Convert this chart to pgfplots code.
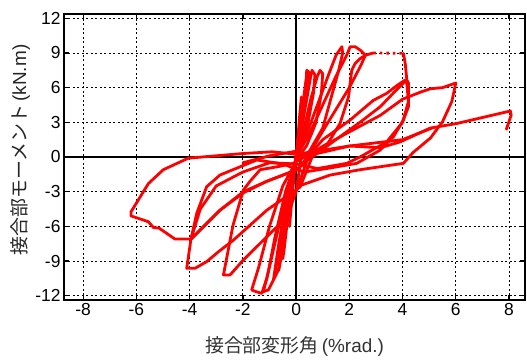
\documentclass[border=0pt]{standalone}
\usepackage{pgfplots}
\pgfplotsset{compat=1.18}
\usepackage{fontspec}
\setmainfont{Liberation Sans}
\newfontfamily\jp{Noto Sans CJK JP}
\tikzset{hl/.style={red, line width=2.8bp, line join=round, line cap=round}}
\begin{document}
\begin{tikzpicture}
\begin{axis}[
 width=461bp, height=286bp, scale only axis,
 xmin=-8.72, xmax=8.6, ymin=-12.37, ymax=12.37,
 xtick={-8,-6,...,8}, ytick={-12,-9,...,12},
 tick align=inside, major tick length=5bp,
 grid=major,
 major grid style={black, line width=0.9bp, dash pattern=on 2bp off 2.5bp},
 axis line style={black, line width=1.3bp},
 tick style={black, line width=1.3bp},
 /pgf/number format/assume math mode=true,
 ticklabel style={font=\fontsize{17.5}{18}\selectfont},
 xlabel={{\jp 接合部変形角}\,(\%rad.)},
 ylabel={{\jp 接合部モーメント}\,(kN.m)},
 xlabel style={at={(axis description cs:0.5,-0.164)}, anchor=center, font=\fontsize{19}{22}\selectfont, text=black!80},
 ylabel style={at={(axis description cs:-0.0954,0.5245)}, anchor=center, font=\fontsize{19}{22}\selectfont, text=black!85},
]
\coordinate (SW) at (rel axis cs:0,0);
\coordinate (NE) at (rel axis cs:1,1);
\draw[black, line width=2.6bp] (rel axis cs:0,0.5) -- (rel axis cs:1,0.5);
\draw[black, line width=2.6bp] (axis cs:0,-12.37) -- (axis cs:0,12.37);
% small cycles
\addplot[hl] coordinates {(0,0) (0.08,2.0) (0.15,4.0) (0.2,5.2) (0.12,3.0) (0.03,0.8) (-0.05,-1.0) (-0.15,-3.5) (-0.25,-6.0) (-0.18,-4.0) (-0.05,-1.0) (0,0)};
\addplot[hl] coordinates {(0,0) (0.1,2.0) (0.25,4.5) (0.38,6.8) (0.4,7.5) (0.5,7.3) (0.4,5.5) (0.25,3.0) (0.05,0.5) (-0.1,-1.5) (-0.3,-5.0) (-0.45,-8.0) (-0.5,-8.8) (-0.35,-6.0) (-0.15,-2.5) (0,0)};
\addplot[hl] coordinates {(0,0) (0.2,2.5) (0.4,5.0) (0.55,7.0) (0.6,7.5) (0.71,7.1) (0.65,5.5) (0.45,3.0) (0.2,1.0) (-0.1,-1.0) (-0.35,-4.5) (-0.55,-8.0) (-0.65,-9.8) (-0.55,-8.5) (-0.35,-5) (-0.1,-1.5) (0,0)};
\addplot[hl] coordinates {(0,0) (0.3,2.5) (0.55,5.0) (0.8,7.0) (0.9,7.5) (1.0,7.2) (0.95,5.5) (0.75,3.0) (0.4,1.0) (0,-0.3) (-0.35,-3.5) (-0.65,-7.5) (-0.85,-10.6) (-0.75,-9.5) (-0.5,-6) (-0.2,-2) (0,0)};
\addplot[hl] coordinates {(0,0) (0.4,2.0) (0.8,4.5) (1.2,7.0) (1.5,8.8) (1.72,9.54) (1.75,9.0) (1.6,7.5) (1.3,5.0) (1.0,2.5) (0.5,0.5) (0,-0.3) (-0.4,-3.0) (-0.8,-7.0) (-1.05,-10.0) (-1.23,-11.65) (-1.04,-11.5) (-0.91,-10.9) (-0.67,-9.8) (-0.4,-6.0) (-0.15,-2.0) (0,0)};
\addplot[hl] coordinates {(0,0) (0.5,2.0) (1.0,4.5) (1.5,7.0) (1.9,8.8) (2.03,9.54) (2.22,9.54) (2.4,9.26) (2.6,8.8) (2.4,8.5) (2.22,8.1) (2.09,7.5) (1.97,5.2) (1.65,2.9) (1.2,1.2) (0.5,0.2) (0,-0.4) (-0.5,-2.5) (-1.0,-6.0) (-1.4,-9.5) (-1.67,-11.5) (-1.5,-11.65) (-1.29,-11.8) (-1.1,-10.5) (-0.8,-7.5) (-0.4,-3.5) (0,-0.5)};
% 2-3 % negative loop
\addplot[hl] coordinates {(0,-0.5) (-0.6,-0.8) (-1.35,-1.1) (-1.73,-2.1) (-1.98,-2.85) (-2.37,-5.9) (-2.73,-10.2) (-2.48,-10.2) (-1.98,-8.9) (-1.1,-6.9) (-0.35,-5.2) (0,-3.0)};
% 4 % first cycle
\addplot[hl] coordinates {(0,-3.0) (0.5,0.3) (1.2,3.0) (2.0,6.0) (2.45,8.0) (2.6,8.8) (2.9,9.0)};
\addplot[red, line width=2.8bp, dash pattern=on 2.5bp off 4bp] coordinates {(2.9,9.0) (4.03,8.97)};
\addplot[hl] coordinates {(4.03,8.97) (4.1,8.1) (4.16,6.66) (4.22,6.4) (4.22,4.35) (4.03,3.2) (3.66,1.76) (3.16,0.6) (2.28,-0.55) (1.28,-0.95) (0.3,-1.3) (-0.5,-0.6) (-1.48,-0.26) (-2.86,-1.56) (-3.36,-2.57) (-3.73,-4.85) (-3.95,-7.1) (-4.11,-9.63) (-3.8,-9.63) (-3.36,-9.05) (-2.92,-8.2) (-2.36,-7.2) (-1.1,-4.6) (0.15,-2.6)};
% 4 % second cycle
\addplot[hl] coordinates {(0.15,-2.6) (0.6,0) (1.65,1.76) (2.4,3.0) (3.16,4.35) (3.6,5.4) (4.03,6.4) (4.15,6.6) (4.22,4.8) (4.0,3.0) (3.4,1.3) (2.4,0.0) (1.9,-0.55) (0.8,-1.0) (0,-0.6) (-1.0,-0.5) (-2.0,-1.3) (-3.0,-2.5) (-3.6,-4.5) (-3.95,-7.1) (-3.6,-6.3) (-2.86,-4.6) (-1.98,-3.0) (-1.1,-2.1) (0.03,-1.1)};
\addplot[hl] coordinates {(0.03,-1.1) (1.0,1.5) (2.03,3.2) (2.9,4.9) (3.4,5.5) (3.8,6.2) (4.1,6.66)};
% 6 % cycle
\addplot[hl] coordinates {(0.03,-1.1) (1.0,0.9) (1.9,2.05) (3.16,3.6) (4.0,5.0) (4.66,5.6) (5.04,5.9) (5.5,6.0) (6.0,6.4) (5.85,4.8) (5.5,3.05) (5.05,1.65) (4.4,0.4) (4.03,-0.55) (2.4,-1.1) (1.28,-1.56) (0.03,-2.57)};
\addplot[hl] coordinates {(0.03,-2.57) (0.2,0.2) (-0.9,0.45) (-2.0,0.3) (-4.05,-0.1) (-4.99,-1.1) (-5.55,-2.3) (-6.2,-4.73) (-6.2,-5.1) (-5.55,-5.6) (-5.36,-6.1) (-5.15,-6.15) (-4.55,-7.1) (-3.95,-7.1) (-2.86,-4.6) (-1.98,-3.1) (-1.1,-2.1) (0.03,-1.1)};
% 8 % cycle
\addplot[hl] coordinates {(0.03,-1.1) (0.6,0.2) (2.0,0.95) (3.16,0.8) (3.9,1.3) (5.04,2.5) (6.04,2.9) (8.05,3.98) (8.08,3.63) (7.9,2.4)};
\addplot[hl] coordinates {(0.2,0.3) (2.0,0.95) (4.0,1.5) (5.1,2.5)};
\addplot[hl] coordinates {(-2.0,-0.5) (-1.0,0.1) (0,0.5)};
\end{axis}
\path ([shift={(-64bp,-59bp)}]SW) rectangle ([shift={(2bp,14bp)}]NE);
\end{tikzpicture}
\end{document}
